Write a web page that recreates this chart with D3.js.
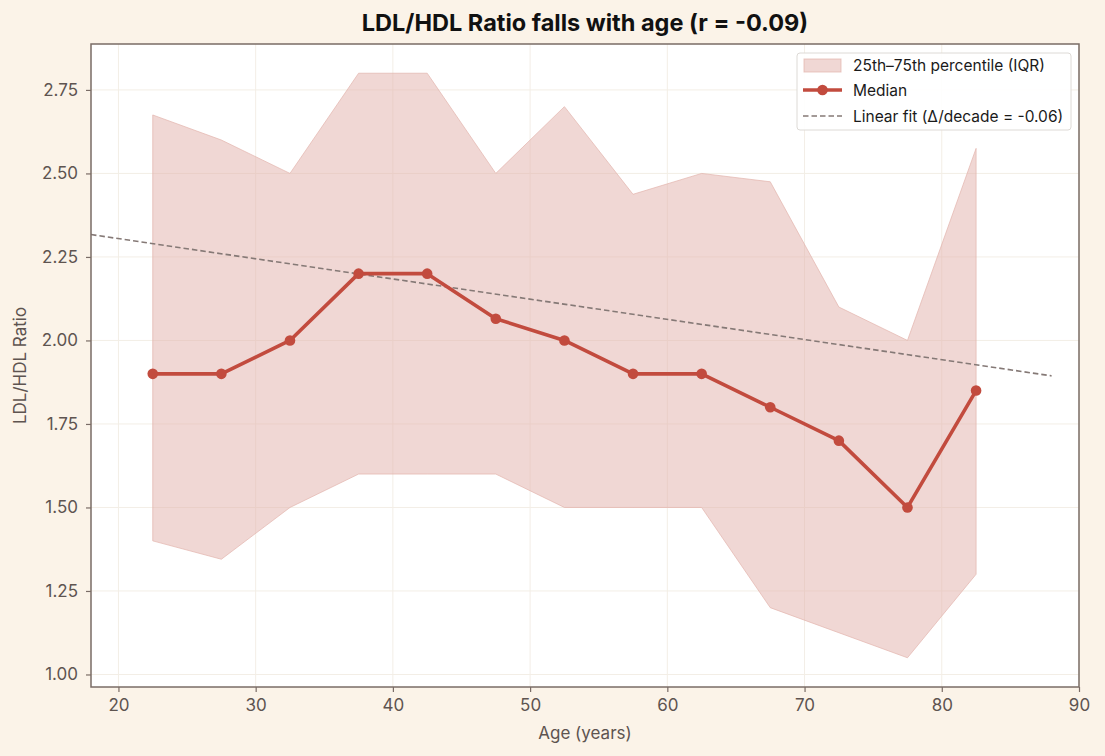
<!DOCTYPE html>
<html>
<head>
<meta charset="utf-8">
<script src="https://cdn.jsdelivr.net/npm/d3@7"></script>
<style>
  html, body { margin: 0; padding: 0; background: #FBF3E8; }
  svg { display: block; font-family: Inter, "Noto Sans", sans-serif; }
</style>
</head>
<body>
<svg id="chart" width="1105" height="756"></svg>
<script>
// ---- data ----
const ages = [22.5, 27.5, 32.5, 37.5, 42.5, 47.5, 52.5, 57.5, 62.5, 67.5, 72.5, 77.5, 82.5];
const median = [1.9, 1.9, 2.0, 2.2, 2.2, 2.065, 2.0, 1.9, 1.9, 1.8, 1.7, 1.5, 1.85];
const q25 = [1.4, 1.345, 1.5, 1.6, 1.6, 1.6, 1.5, 1.5, 1.5, 1.2, 1.125, 1.05, 1.3];
const q75 = [2.675, 2.6, 2.5, 2.8, 2.8, 2.5, 2.7, 2.4375, 2.5, 2.475, 2.1, 2.0, 2.575];
const fitAges = [18, 88];
const fitValues = [2.317, 1.894];
const xTicks = [20, 30, 40, 50, 60, 70, 80, 90];
const yTicks = [1.00, 1.25, 1.50, 1.75, 2.00, 2.25, 2.50, 2.75];
const titleText = "LDL/HDL Ratio falls with age (r = -0.09)";
const legendLabels = ["25th\u201375th percentile (IQR)", "Median", "Linear fit (\u0394/decade = -0.06)"];

// ---- layout ----
const svg = d3.select("#chart");
const L = 91, R = 1079, T = 44, B = 687;
const x = d3.scaleLinear().domain([18, 90]).range([L, R]);
const y = d3.scaleLinear().domain([0.9625, 2.8875]).range([B, T]);

const medColor = "#C24B3E";
const bandColor = "#E2B3AC";
const axisColor = "#7A6C66";
const textColor = "#5E5450";

// plot background
svg.append("rect").attr("x", L).attr("y", T).attr("width", R - L).attr("height", B - T).attr("fill", "#FFFFFF");

// grid
const g = svg.append("g");
g.selectAll(".gx").data(xTicks).enter().append("line")
  .attr("x1", d => x(d)).attr("x2", d => x(d)).attr("y1", T).attr("y2", B)
  .attr("stroke", "#F3EEE6").attr("stroke-width", 1);
g.selectAll(".gy").data(yTicks).enter().append("line")
  .attr("x1", L).attr("x2", R).attr("y1", d => y(d)).attr("y2", d => y(d))
  .attr("stroke", "#F3EEE6").attr("stroke-width", 1);

const data = ages.map((a, i) => ({ a, m: median[i], lo: q25[i], hi: q75[i] }));

// band
const area = d3.area().x(d => x(d.a)).y0(d => y(d.lo)).y1(d => y(d.hi));
svg.append("path").datum(data).attr("d", area)
  .attr("fill", bandColor).attr("fill-opacity", 0.52)
  .attr("stroke", bandColor).attr("stroke-opacity", 0.7).attr("stroke-width", 1);

// fit line
const fitData = fitAges.map((a, i) => ({ a, v: fitValues[i] }));
svg.append("path").datum(fitData)
  .attr("d", d3.line().x(d => x(d.a)).y(d => y(d.v)))
  .attr("fill", "none").attr("stroke", "#857976").attr("stroke-width", 1.6)
  .attr("stroke-dasharray", "5.5,3");

// median line
svg.append("path").datum(data)
  .attr("d", d3.line().x(d => x(d.a)).y(d => y(d.m)))
  .attr("fill", "none").attr("stroke", medColor).attr("stroke-width", 3.6)
  .attr("stroke-linejoin", "round");
svg.selectAll(".pt").data(data).enter().append("circle")
  .attr("cx", d => x(d.a)).attr("cy", d => y(d.m)).attr("r", 5.3)
  .attr("fill", medColor);

// axes
const xAxis = svg.append("g").attr("transform", `translate(0,${B})`)
  .call(d3.axisBottom(x).tickValues(xTicks).tickSize(5).tickPadding(7).tickFormat(d3.format("d")));
const yAxis = svg.append("g").attr("transform", `translate(${L},0)`)
  .call(d3.axisLeft(y).tickValues(yTicks).tickSize(5).tickPadding(8).tickFormat(d3.format(".2f")));
[xAxis, yAxis].forEach(ax => {
  ax.select(".domain").remove();
  ax.selectAll("line").attr("stroke", axisColor).attr("stroke-width", 1.2);
  ax.selectAll("text").attr("fill", textColor).attr("font-size", 17).attr("font-family", "Inter, sans-serif");
});

// frame
svg.append("rect").attr("x", L).attr("y", T).attr("width", R - L).attr("height", B - T)
  .attr("fill", "none").attr("stroke", axisColor).attr("stroke-width", 1.5);

// labels
svg.append("text").attr("x", (L + R) / 2).attr("y", 31).attr("text-anchor", "middle")
  .attr("font-size", 23.5).attr("font-weight", 700).attr("fill", "#111111").text(titleText);
svg.append("text").attr("x", (L + R) / 2).attr("y", 739).attr("text-anchor", "middle")
  .attr("font-size", 17).attr("fill", textColor).text("Age (years)");
svg.append("text").attr("transform", `translate(26,${(T + B) / 2}) rotate(-90)`)
  .attr("text-anchor", "middle").attr("font-size", 17).attr("fill", textColor).text("LDL/HDL Ratio");

// legend
const lg = svg.append("g").attr("transform", "translate(797,53)");
lg.append("rect").attr("width", 274).attr("height", 77).attr("rx", 3)
  .attr("fill", "#FFFFFF").attr("fill-opacity", 0.9).attr("stroke", "#DDDAD6").attr("stroke-width", 1);
lg.append("rect").attr("x", 7).attr("y", 6).attr("width", 37).attr("height", 13)
  .attr("fill", bandColor).attr("fill-opacity", 0.52).attr("stroke", bandColor).attr("stroke-opacity", 0.7);
lg.append("line").attr("x1", 6).attr("x2", 45).attr("y1", 37).attr("y2", 37)
  .attr("stroke", medColor).attr("stroke-width", 3.6);
lg.append("circle").attr("cx", 25.5).attr("cy", 37).attr("r", 5.3).attr("fill", medColor);
lg.append("line").attr("x1", 6).attr("x2", 45).attr("y1", 63).attr("y2", 63)
  .attr("stroke", "#857976").attr("stroke-width", 1.6).attr("stroke-dasharray", "5.5,3");
lg.selectAll(".lt").data(legendLabels).enter().append("text")
  .attr("x", 56).attr("y", (d, i) => 17.5 + i * 25.5)
  .attr("font-size", 15.5).attr("fill", "#1a1a1a").text(d => d);
</script>
</body>
</html>
